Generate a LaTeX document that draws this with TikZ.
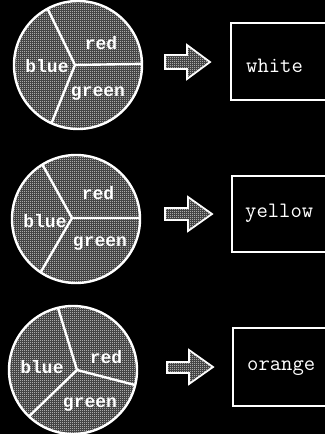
\documentclass[tikz,border=0pt]{standalone}
\usepackage{fontspec}
\newfontfamily\pielabelfont{Liberation Mono}
\usetikzlibrary{patterns}
\pgfdeclarepatternformonly{halftone}{\pgfpointorigin}{\pgfqpoint{2pt}{2pt}}{\pgfqpoint{2pt}{2pt}}{%
  \pgfpathrectangle{\pgfpointorigin}{\pgfqpoint{1pt}{1pt}}%
  \pgfpathrectangle{\pgfqpoint{1pt}{1pt}}{\pgfqpoint{1pt}{1pt}}%
  \pgfusepath{fill}}

\begin{document}
\begin{tikzpicture}[x=1pt, y=-1pt,
  pie/.style={fill=black!82, postaction={pattern=halftone, pattern color=white!92!black}},
  rim/.style={draw=white, line width=2.4pt},
  spoke/.style={draw=white, line width=2.4pt},
  slicelbl/.style={font=\pielabelfont\bfseries\fontsize{18}{18}\selectfont, text=white, inner sep=0pt},
  outbox/.style={draw=white, line width=1.8pt, anchor=north west, minimum width=140pt, inner sep=0pt},
  outlbl/.style={font=\ttfamily\fontsize{22}{22}\selectfont, text=white, anchor=west, inner sep=0pt},
  blockarrow/.style={draw=white, line width=1.8pt, line join=miter, fill=black!82, postaction={pattern=halftone, pattern color=white!92!black}}
]
\useasboundingbox (0,0) rectangle (325,434);
\clip (0,0) rectangle (325,434);
\fill[black] (0,0) rectangle (325,434);

% first mix
\fill[pie] (78,65) circle[radius=64pt];
\coordinate (hub1) at (75,65);
\begin{scope}
  \clip (78,65) circle[radius=64pt];
  \draw[spoke] (hub1) -- ++(116:90pt) (hub1) -- ++(1:90pt) (hub1) -- ++(248:90pt);
\end{scope}
\draw[rim] (78,65) circle[radius=64pt];
\node[slicelbl] (red1) at (101,43) {red};
\node[slicelbl] (blue1) at (47,66) {blue};
\node[slicelbl] (green1) at (98,94) {green};

\filldraw[blockarrow] (165,55) -- (187,55) -- (187,45) -- (210,62) -- (187,79) -- (187,69) -- (165,69) -- cycle;
\node[outbox, minimum height=77pt] (box1) at (230,22) {};
\node[outlbl] (out1) at (246,66) {white};

% second mix
\fill[pie] (76,219) circle[radius=64pt];
\coordinate (hub2) at (72,218);
\begin{scope}
  \clip (76,219) circle[radius=64pt];
  \draw[spoke] (hub2) -- ++(119:90pt) (hub2) -- ++(0:90pt) (hub2) -- ++(240:90pt);
\end{scope}
\draw[rim] (76,219) circle[radius=64pt];
\node[slicelbl] (red2) at (98,193) {red};
\node[slicelbl] (blue2) at (45,221) {blue};
\node[slicelbl] (green2) at (100,244) {green};

\filldraw[blockarrow] (165,208) -- (188,208) -- (188,197) -- (212,214) -- (188,231) -- (188,220) -- (165,220) -- cycle;
\node[outbox, minimum height=76pt] (box2) at (231,175) {};
\node[outlbl] (out2) at (245,213) {yellow};

% third mix
\fill[pie] (73,370) circle[radius=64pt];
\coordinate (hub3) at (77,370);
\begin{scope}
  \clip (73,370) circle[radius=64pt];
  \draw[spoke] (hub3) -- ++(107:90pt) (hub3) -- ++(-14.5:90pt) (hub3) -- ++(224:90pt);
\end{scope}
\draw[rim] (73,370) circle[radius=64pt];
\node[slicelbl] (red3) at (106,357) {red};
\node[slicelbl] (blue3) at (42,367) {blue};
\node[slicelbl] (green3) at (90,405) {green};

\filldraw[blockarrow] (167,362) -- (189,362) -- (189,350) -- (213,367) -- (189,384) -- (189,373) -- (167,373) -- cycle;
\node[outbox, minimum height=78pt] (box3) at (232,327) {};
\node[outlbl] (out3) at (247,368) {orange};

\end{tikzpicture}
\end{document}
